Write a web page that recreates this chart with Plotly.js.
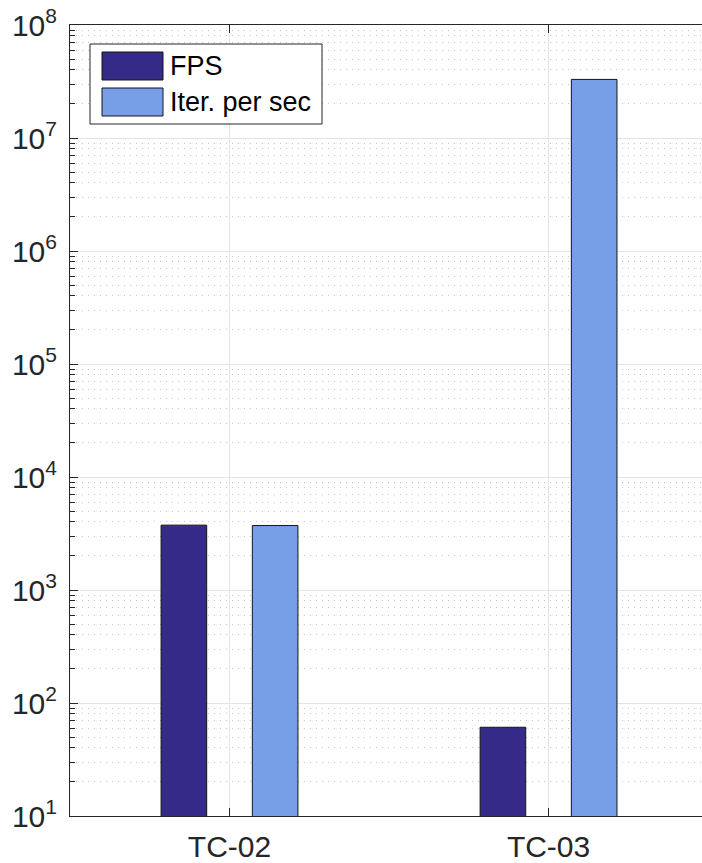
<!DOCTYPE html>
<html>
<head>
<meta charset="utf-8">
<script src="https://cdn.plot.ly/plotly-3.0.1.min.js"></script>
<style>html,body{margin:0;padding:0;background:#fff;}#chart{width:702px;height:863px;}</style>
</head>
<body>
<div id="chart"></div>
<script>
// ---- data ----
const categories = ['TC-02', 'TC-03'];
const seriesNames = ['FPS', 'Iter. per sec'];
const fps = [3750, 61];
const iterPerSec = [3720, 3.3e7];
const seriesColors = ['#352A87', '#769FE8'];
const yTickVals = [1e1, 1e2, 1e3, 1e4, 1e5, 1e6, 1e7, 1e8];
const yTickText = ['10<sup>1</sup>', '10<sup>2</sup>', '10<sup>3</sup>', '10<sup>4</sup>',
                   '10<sup>5</sup>', '10<sup>6</sup>', '10<sup>7</sup>', '10<sup>8</sup>'];

// minor tick positions (2..9 x 10^k)
const minorVals = [];
for (let k = 1; k < 8; k++) for (let m = 2; m <= 9; m++) minorVals.push(m * Math.pow(10, k));

const W = 702, H = 863;
const L = 70, T = 25, B = 816, R = 702;
const px = x => (x - L) / (R - L);
const py = y => (B - y) / (B - T);

const axisColor = '#262626';
const fontFamily = 'Liberation Sans, Arial, Helvetica, sans-serif';

const traces = [
  {type: 'bar', name: seriesNames[0], x: categories, y: fps,
   marker: {color: seriesColors[0], line: {color: '#151515', width: 1}}, showlegend: false, hoverinfo: 'skip'},
  {type: 'bar', name: seriesNames[1], x: categories, y: iterPerSec,
   marker: {color: seriesColors[1], line: {color: '#151515', width: 1}}, showlegend: false, hoverinfo: 'skip'}
];

// custom legend (box, patches, labels)
const shapes = [
  {type: 'rect', xref: 'paper', yref: 'paper', x0: px(90), x1: px(322), y0: py(124), y1: py(44),
   line: {color: axisColor, width: 1}, fillcolor: '#ffffff', layer: 'above'}
];
const annotations = [];
const patchY = [[52, 80], [88, 116]];
seriesNames.forEach((nm, i) => {
  shapes.push({type: 'rect', xref: 'paper', yref: 'paper', x0: px(102), x1: px(163),
    y0: py(patchY[i][1]), y1: py(patchY[i][0]),
    line: {color: '#151515', width: 1}, fillcolor: seriesColors[i], layer: 'above'});
  annotations.push({xref: 'paper', yref: 'paper', x: px(168), y: py((patchY[i][0] + patchY[i][1]) / 2),
    xanchor: 'left', yanchor: 'middle', text: nm, showarrow: false,
    font: {family: fontFamily, size: 27, color: '#000000'}});
});

const layout = {
  width: W, height: H,
  margin: {l: L, r: W - R, t: T, b: H - B, pad: 0},
  paper_bgcolor: '#ffffff', plot_bgcolor: '#ffffff',
  barmode: 'group', bargap: 0.428, bargroupgap: 0.5,
  showlegend: false,
  font: {family: fontFamily, color: axisColor},
  xaxis: {
    type: 'category', range: [-0.5, 1.481],
    showline: true, linecolor: axisColor, linewidth: 1, mirror: 'ticks',
    ticks: 'inside', ticklen: 8, tickcolor: axisColor, tickwidth: 1,
    showgrid: true, gridcolor: '#e4e4e4', gridwidth: 1,
    tickfont: {family: fontFamily, size: 30, color: axisColor},
    ticklabelstandoff: 4, zeroline: false
  },
  yaxis: {
    type: 'log', range: [1, 8],
    showline: true, linecolor: axisColor, linewidth: 1,
    ticks: 'inside', ticklen: 8, tickcolor: axisColor, tickwidth: 1,
    tickmode: 'array', tickvals: yTickVals, ticktext: yTickText,
    showgrid: true, gridcolor: '#e4e4e4', gridwidth: 1,
    tickfont: {family: fontFamily, size: 30, color: axisColor},
    ticklabelstandoff: 6, zeroline: false,
    minor: {tickmode: 'array', tickvals: minorVals, ticks: 'inside', ticklen: 5,
            tickcolor: axisColor, tickwidth: 1,
            showgrid: true, gridcolor: '#c4c4c4', griddash: '1px,5px', gridwidth: 1}
  },
  shapes: shapes,
  annotations: annotations
};

Plotly.newPlot('chart', traces, layout, {staticPlot: true, displayModeBar: false});
</script>
</body>
</html>
